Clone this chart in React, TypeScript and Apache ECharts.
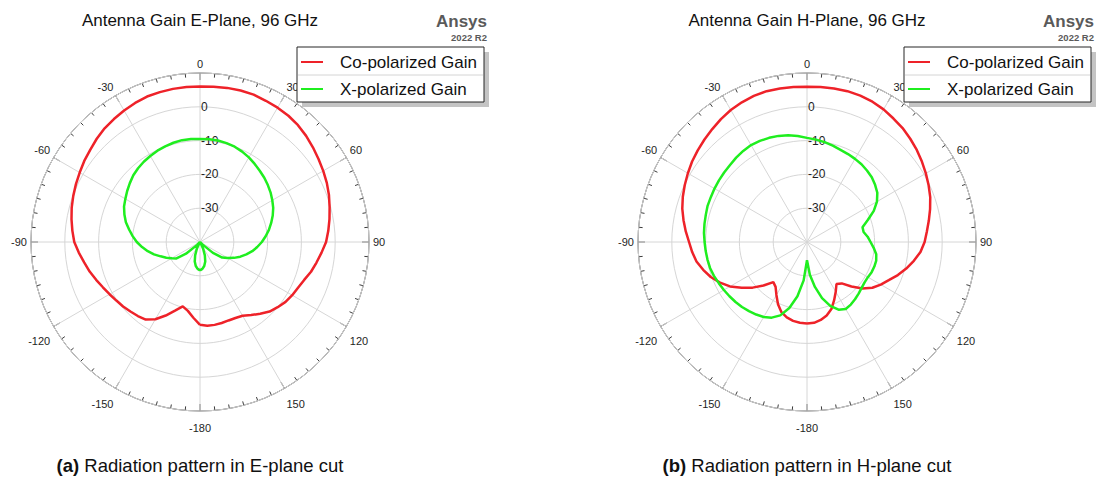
import React, { useEffect, useRef } from "react";
import * as echarts from "echarts";

// ---------- data (angle in degrees, gain in dB) ----------
const ANGLES = [
  -180, -175, -170, -165, -160, -155, -150, -145, -140, -135, -130, -125, -120,
  -115, -110, -105, -100, -95, -90, -85, -80, -75, -70, -65, -60, -55, -50, -45,
  -40, -35, -30, -25, -20, -15, -10, -5, 0, 5, 10, 15, 20, 25, 30, 35, 40, 45,
  50, 55, 60, 65, 70, 75, 80, 85, 90, 95, 100, 105, 110, 115, 120, 125, 130,
  135, 140, 145, 150, 155, 160, 165, 170, 175, 180,
];

// E-plane, co-polarized
const E_CO = [
  -15.5, -17.5, -19.3, -20.3, -18.4, -16.0, -13.6, -12.0, -11.4, -10.9, -10.3,
  -9.8, -9.1, -8.3, -7.3, -6.2, -5.2, -4.0, -2.8, -2.1, -1.4, -0.7, -0.1, 0.5,
  1.1, 1.8, 2.4, 3.2, 3.9, 4.4, 4.9, 5.4, 5.8, 5.9, 6.0, 6.0, 6.0, 6.1, 6.3,
  6.4, 6.4, 6.1, 5.9, 5.6, 5.1, 4.4, 3.6, 2.8, 2.1, 1.4, 0.6, -0.3, -1.1, -1.9,
  -2.7, -3.9, -5.0, -6.0, -7.2, -8.0, -8.5, -9.1, -10.0, -10.9, -12.3, -13.6,
  -14.8, -15.2, -15.3, -15.2, -15.1, -15.1, -15.5,
];

// E-plane, cross-polarized
const E_X = [
  -31.6, -32.0, -32.8, -34.0, -35.8, -37.8, -39.5, -40.0, -40.0, -38.8, -34.6,
  -31.5, -30.4, -29.0, -27.6, -25.9, -24.3, -22.8, -21.3, -20.0, -18.7, -17.3,
  -16.2, -15.2, -14.5, -13.7, -12.9, -12.1, -11.5, -11.0, -10.6, -10.2, -9.9,
  -9.6, -9.4, -9.4, -9.5, -9.5, -9.5, -9.7, -10.0, -10.5, -11.1, -11.8, -12.5,
  -13.1, -13.8, -14.5, -15.3, -16.1, -17.1, -18.2, -19.3, -20.5, -21.7, -23.0,
  -24.3, -25.8, -27.3, -28.9, -30.5, -32.0, -35.0, -39.0, -40.0, -40.0, -39.5,
  -37.8, -35.8, -34.0, -32.8, -32.0, -31.6,
];

// H-plane, co-polarized
const H_CO = [
  -15.9, -16.0, -16.3, -16.9, -17.9, -19.7, -21.9, -23.8, -24.5, -21.8, -19.0,
  -16.4, -13.7, -11.6, -9.7, -8.2, -6.8, -5.9, -5.1, -4.0, -2.9, -1.8, -0.9,
  -0.1, 0.7, 1.5, 2.2, 2.9, 3.6, 4.4, 5.1, 5.6, 6.0, 6.2, 6.1, 6.0, 5.9, 6.0,
  6.1, 6.2, 6.1, 5.8, 5.3, 4.6, 4.0, 3.2, 2.4, 1.5, 0.6, -0.3, -1.2, -2.3, -3.4,
  -4.4, -5.2, -6.3, -7.9, -9.6, -11.4, -13.3, -14.8, -16.4, -18.6, -21.4, -24.0,
  -24.8, -23.0, -21.0, -18.9, -17.5, -16.6, -16.0, -15.9,
];

// H-plane, cross-polarized
const H_X = [
  -34.6, -28.6, -23.7, -19.8, -16.9, -15.3, -14.4, -13.8, -13.3, -12.8, -12.4,
  -12.0, -11.6, -11.2, -10.7, -10.3, -10.1, -9.9, -9.7, -9.4, -9.2, -9.0, -8.7,
  -8.6, -8.4, -8.2, -8.0, -7.8, -7.4, -7.1, -6.9, -7.0, -7.2, -7.5, -7.9, -8.5,
  -9.2, -9.6, -10.0, -10.5, -11.0, -11.3, -11.6, -11.9, -12.4, -12.9, -13.7,
  -14.6, -16.1, -18.2, -20.8, -23.0, -23.0, -22.0, -21.2, -20.2, -19.2, -18.8,
  -18.8, -18.9, -19.2, -19.2, -18.9, -18.4, -17.9, -17.4, -17.1, -17.9, -19.9,
  -22.8, -26.5, -30.3, -34.6,
];

const SERIES_NAMES = ["Co-polarized Gain", "X-polarized Gain"];
const TITLES = ["Antenna Gain E-Plane, 96 GHz", "Antenna Gain H-Plane, 96 GHz"];
const CAPTION_TAGS = ["(a)", "(b)"];
const CAPTION_TEXTS = [
  " Radiation pattern in E-plane cut",
  " Radiation pattern in H-plane cut",
];
const BRAND = "Ansys";
const VERSION = "2022 R2";

const R_MIN = -40;
const R_MAX = 10;
const R_STEP = 10;
const ANGLE_STEP = 30;

// ---------- styling / layout ----------
const FONT = "'Liberation Sans', Arial, Helvetica, sans-serif";
const RED = "#ee2229";
const GREEN = "#1fee1f";
const AXIS_DARK = "#3c3c3c";
const GRID = "#d6d6d6";
const CENTERS = [
  [200, 242],
  [807, 242],
];
const RADIUS = 169;

const toPolar = (vals: number[]) =>
  ANGLES.map((a, i) => [vals[i], a < 0 ? a + 360 : a]);

const angleLabel = (v: number) => {
  let a = v > 180 ? v - 360 : v;
  if (a === 180) a = -180;
  return Math.abs(a) > 90 ? `{lo|${a}}` : `{hi|${a}}`;
};

export default function App() {
  const ref = useRef<HTMLDivElement>(null);

  useEffect(() => {
    if (!ref.current) return;
    const chart = echarts.init(ref.current, undefined, { renderer: "svg" });

    const labelText = { fontSize: 11, color: "#1e1e1e", fontFamily: FONT };

    const polar = CENTERS.map((c) => ({ center: c, radius: RADIUS }));

    const angleAxis = CENTERS.map((_, i) => ({
      polarIndex: i,
      type: "value",
      min: 0,
      max: 360,
      interval: ANGLE_STEP,
      startAngle: 90,
      clockwise: true,
      axisLine: { show: true, lineStyle: { color: AXIS_DARK, width: 1 } },
      axisTick: {
        show: true,
        inside: true,
        length: 7,
        lineStyle: { color: AXIS_DARK, width: 1 },
      },
      minorTick: {
        show: true,
        splitNumber: 6,
        length: 4,
        lineStyle: { color: AXIS_DARK, width: 1 },
      },
      splitLine: { show: true, lineStyle: { color: GRID, width: 1 } },
      axisLabel: {
        show: true,
        margin: 4,
        formatter: angleLabel,
        ...labelText,
        rich: {
          hi: { ...labelText, padding: [0, 0, 0, 0] },
          lo: { ...labelText, padding: [7, 0, 0, 0] },
        },
      },
    }));

    const radiusAxis = CENTERS.map((_, i) => ({
      polarIndex: i,
      type: "value",
      min: R_MIN,
      max: R_MAX,
      interval: R_STEP,
      axisLine: { show: false },
      axisTick: { show: false },
      splitLine: { show: true, lineStyle: { color: GRID, width: 1 } },
      axisLabel: {
        show: true,
        margin: -1,
        align: "left",
        verticalAlign: "middle",
        formatter: (v: number) => (v > R_MIN && v < R_MAX ? String(v) : ""),
        fontSize: 12,
        color: "#1e1e1e",
        fontFamily: FONT,
      },
      z: 1,
    }));

    const mkSeries = (name: string, vals: number[], idx: number, color: string) => ({
      type: "line",
      name,
      coordinateSystem: "polar",
      polarIndex: idx,
      data: toPolar(vals),
      symbol: "none",
      showSymbol: false,
      color,
      itemStyle: { color },
      lineStyle: { color, width: 2.5 },
      z: 3,
    });

    const series = [
      mkSeries(SERIES_NAMES[0], E_CO, 0, RED),
      mkSeries(SERIES_NAMES[1], E_X, 0, GREEN),
      mkSeries(SERIES_NAMES[0], H_CO, 1, RED),
      mkSeries(SERIES_NAMES[1], H_X, 1, GREEN),
    ];

    const LEG_W = 187;
    const LEG_H = 55;
    const legendBoxes = CENTERS.map((c) => [c[0] + 97, 47]);

    const legendText = { fontSize: 17, color: "#111", fontFamily: FONT };
    const legend = legendBoxes.map((b) => ({
      data: SERIES_NAMES,
      orient: "vertical",
      left: b[0] + 4,
      top: b[1] + 7,
      icon: "rect",
      itemWidth: 22,
      itemHeight: 2,
      itemGap: 10,
      padding: 0,
      selectedMode: false,
      formatter: (name: string) => `{t|${name}}`,
      textStyle: {
        ...legendText,
        rich: { t: { ...legendText, padding: [1, 0, 0, 12] } },
      },
      z: 10,
    }));

    const graphic: any[] = [];
    legendBoxes.forEach((b) => {
      graphic.push({
        type: "rect",
        shape: { x: b[0] + 5, y: b[1] + 5, width: LEG_W, height: LEG_H },
        style: { fill: "#c4c4c4" },
        z: 6,
      });
      graphic.push({
        type: "rect",
        shape: { x: b[0], y: b[1], width: LEG_W, height: LEG_H },
        style: { fill: "#ffffff", stroke: "#262626", lineWidth: 1 },
        z: 7,
      });
      graphic.push({
        type: "line",
        shape: { x1: b[0] + 1, y1: b[1] + 28, x2: b[0] + LEG_W - 1, y2: b[1] + 28 },
        style: { stroke: "#d4d4d4", lineWidth: 1 },
        z: 8,
      });
    });
    CENTERS.forEach((c, i) => {
      graphic.push({
        type: "text",
        x: c[0],
        y: 20,
        style: {
          text: TITLES[i],
          fontSize: 17,
          fontFamily: FONT,
          fill: "#111",
          align: "center",
          verticalAlign: "middle",
        },
        z: 8,
      });
      graphic.push({
        type: "text",
        x: c[0] + 287,
        y: 21,
        style: {
          text: BRAND,
          fontSize: 17,
          fontWeight: "bold",
          fontFamily: FONT,
          fill: "#5a5a5a",
          align: "right",
          verticalAlign: "middle",
        },
        z: 8,
      });
      graphic.push({
        type: "text",
        x: c[0] + 287,
        y: 37,
        style: {
          text: VERSION,
          fontSize: 9.5,
          fontWeight: "bold",
          fontFamily: FONT,
          fill: "#5a5a5a",
          align: "right",
          verticalAlign: "middle",
        },
        z: 8,
      });
      graphic.push({
        type: "text",
        x: c[0],
        y: 465,
        style: {
          text: `{b|${CAPTION_TAGS[i]}}${CAPTION_TEXTS[i]}`,
          fontSize: 18.5,
          fontFamily: FONT,
          fill: "#111",
          align: "center",
          verticalAlign: "middle",
          rich: {
            b: { fontSize: 18.5, fontFamily: FONT, fontWeight: "bold", fill: "#111" },
          },
        },
        z: 8,
      });
    });

    chart.setOption({
      animation: false,
      backgroundColor: "#ffffff",
      polar,
      angleAxis,
      radiusAxis,
      legend,
      series,
      graphic,
    });

    return () => chart.dispose();
  }, []);

  return (
    <div
      ref={ref}
      style={{
        position: "absolute",
        left: 0,
        top: 0,
        width: 1100,
        height: 480,
        background: "#ffffff",
      }}
    />
  );
}
